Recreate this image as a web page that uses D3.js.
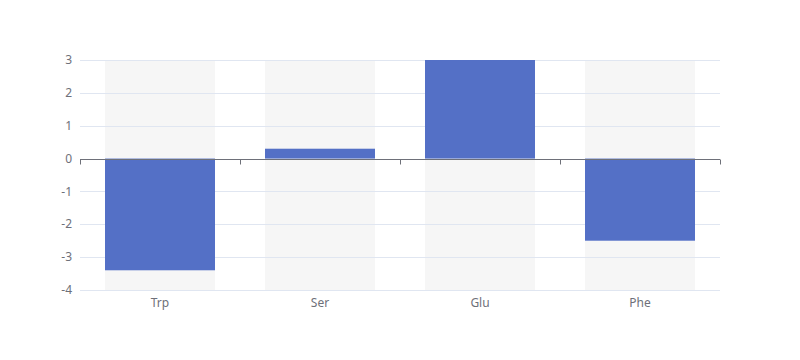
<!DOCTYPE html>
<html><head><meta charset="utf-8">
<script src="https://cdn.jsdelivr.net/npm/d3@7"></script>
<style>body{margin:0;background:#fff}svg{display:block}text{font-family:"Microsoft YaHei","Noto Sans",sans-serif}</style>
</head><body><svg id="c" width="800" height="360"></svg>
<script>
const categories = ["Trp", "Ser", "Glu", "Phe"];
const values = [-3.4, 0.3, 3, -2.5];
const yTicks = [-4, -3, -2, -1, 0, 1, 2, 3];

const svg = d3.select("#c");
const m = {left: 80, right: 720, top: 60, bottom: 290};
const x = d3.scaleBand().domain(categories).range([m.left, m.right]).paddingInner(0.3125).paddingOuter(0.15625);
const xOuter = d3.scaleBand().domain(categories).range([m.left, m.right]);
const y = d3.scaleLinear().domain([-4, 3]).range([m.bottom, m.top]);

// background bars
svg.append("g").selectAll("rect").data(categories).join("rect")
  .attr("x", d => x(d)).attr("width", x.bandwidth())
  .attr("y", m.top).attr("height", m.bottom - m.top)
  .attr("fill", "#f6f6f6");

// grid lines
svg.append("g").selectAll("line").data(yTicks).join("line")
  .attr("x1", m.left).attr("x2", m.right)
  .attr("y1", d => Math.round(y(d)) + 0.5).attr("y2", d => Math.round(y(d)) + 0.5)
  .attr("stroke", "#E0E6F1").attr("stroke-width", 1);

// y labels
svg.append("g").selectAll("text").data(yTicks).join("text")
  .attr("x", m.left - 8).attr("y", d => y(d)).attr("dy", "0.35em")
  .attr("text-anchor", "end").attr("font-size", 12).attr("fill", "#6E7079")
  .text(d => d);

// bars
svg.append("g").selectAll("rect").data(values).join("rect")
  .attr("x", (d, i) => x(categories[i])).attr("width", x.bandwidth())
  .attr("y", d => y(Math.max(0, d))).attr("height", d => Math.abs(y(d) - y(0)))
  .attr("fill", "#5470c6");

// zero axis
const y0 = Math.round(y(0)) + 0.5;
svg.append("line").attr("x1", m.left).attr("x2", m.right).attr("y1", y0).attr("y2", y0)
  .attr("stroke", "#6E7079").attr("stroke-width", 1);
const tickXs = categories.map(c => xOuter(c)).concat([m.right]);
svg.append("g").selectAll("line").data(tickXs).join("line")
  .attr("x1", d => Math.round(d) + 0.5).attr("x2", d => Math.round(d) + 0.5)
  .attr("y1", y0).attr("y2", y0 + 5)
  .attr("stroke", "#6E7079");

// x labels
svg.append("g").selectAll("text").data(categories).join("text")
  .attr("x", d => xOuter(d) + xOuter.bandwidth() / 2).attr("y", m.bottom + 8).attr("dy", "0.75em")
  .attr("text-anchor", "middle").attr("font-size", 12).attr("fill", "#6E7079")
  .text(d => d);
</script></body></html>
